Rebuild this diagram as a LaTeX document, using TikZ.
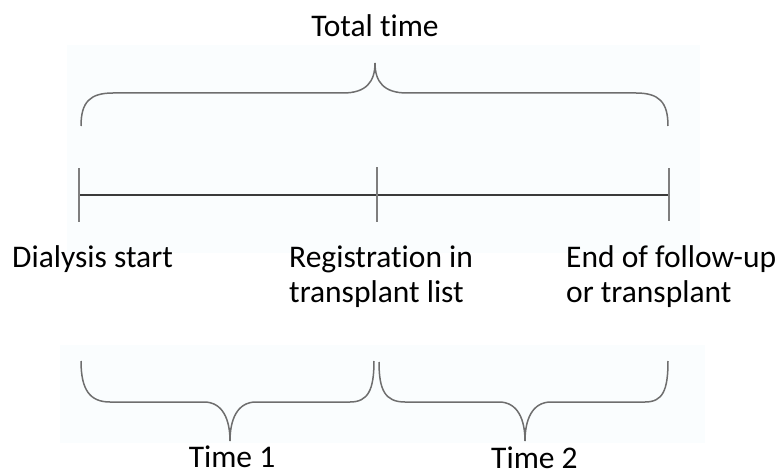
\documentclass[tikz,border=0pt]{standalone}
\usepackage{fontspec}
\setmainfont[Ligatures=NoCommon]{Carlito}
\definecolor{bgblue}{HTML}{FAFDFE}
\definecolor{bracegray}{HTML}{6E6E6E}
\definecolor{tickgray}{HTML}{7E7E7E}
\definecolor{linedark}{HTML}{3A3A3A}
\tikzset{
  label/.style={font=\fontsize{31.5}{35}\selectfont, inner sep=0pt, text=black},
  bracepath/.style={draw=bracegray, line width=1.5pt},
  tickmark/.style={draw=tickgray, line width=1.8pt},
  timeline/.style={draw=linedark, line width=1.1pt}
}
\begin{document}
\begin{tikzpicture}[x=1pt,y=-1pt]
\useasboundingbox (0,0) rectangle (780,476);
\fill[white] (0,0) rectangle (780,476);
\fill[bgblue] (67,45) rectangle (700,253);
\fill[bgblue] (60,345) rectangle (705,443);

% labels
\node[label, anchor=base] (total) at (375,37) {Total time};
\node[label, anchor=base west] (dial) at (12,268) {Dialysis start};
\node[label, anchor=base west, align=left] (reg) at (289,302) {Registration in\\transplant list};
\node[label, anchor=base west, align=left] (endf) at (566,302) {End of follow-up\\or transplant};
\node[label, anchor=base, text depth=0pt] (t1) at (232,467) {Time 1};
\node[label, anchor=base west, text depth=0pt] (t2) at (491,468) {Time 2};

% timeline
\coordinate (a) at (79,195);
\coordinate (b) at (377,195);
\coordinate (c) at (669,195);
\draw[timeline] (a) -- (c);
\draw[tickmark] ([yshift=-27]a) -- ([yshift=27]a);
\draw[tickmark] ([yshift=-27]b) -- ([yshift=28]b);
\draw[tickmark] ([yshift=-26]c) -- ([yshift=27]c);

% top brace
\draw[bracepath] (81,126) .. controls (81,102) and (90,93) .. (113,93) -- (343,93)
  .. controls (366,93) and (375,82) .. (375,63)
  .. controls (375,82) and (384,93) .. (407,93) -- (636,93)
  .. controls (659,93) and (668,102) .. (668,126);

% bottom left brace
\draw[bracepath] (81,361) .. controls (81,390) and (90,402) .. (110,402) -- (204,402)
  .. controls (223,402) and (230,420) .. (230,441)
  .. controls (230,420) and (237,402) .. (256,402) -- (350,402)
  .. controls (368,402) and (374,390) .. (374,361);

% bottom right brace
\draw[bracepath] (379,362) .. controls (379,390) and (385,402) .. (405,402) -- (499,402)
  .. controls (518,402) and (525,420) .. (525,441)
  .. controls (525,420) and (532,402) .. (551,402) -- (645,402)
  .. controls (663,402) and (668,390) .. (668,361);
\end{tikzpicture}
\end{document}
